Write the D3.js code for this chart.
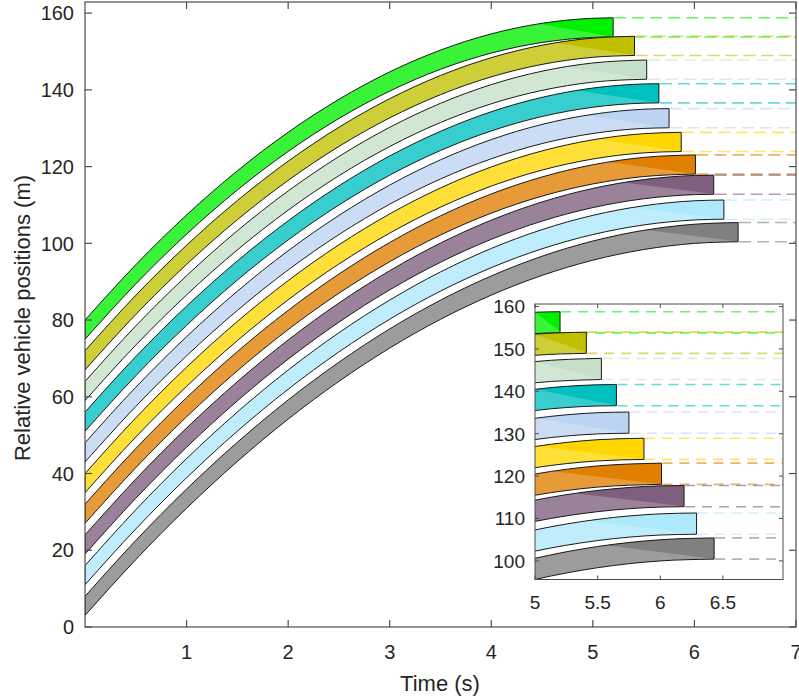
<!DOCTYPE html>
<html>
<head>
<meta charset="utf-8">
<script src="https://cdn.jsdelivr.net/npm/d3@7"></script>
<style>
  body { margin: 0; background: #fff; }
  svg { display: block; }
  text { font-family: "Liberation Sans", Arial, sans-serif; fill: #262626; }
</style>
</head>
<body>
<svg id="chart" width="799" height="699"></svg>
<script>
// Sample instants (s) at which the rear bumper positions are listed
const sampleTimes = [0, 0.5, 1, 1.5, 2, 2.5, 3, 3.5, 4, 4.5, 5, 5.5, 6];

const vehicleIds = ["v1", "v2", "v3", "v4", "v5", "v6", "v7", "v8", "v9", "v10"];
const vehicleColors = ["#00f000", "#c0c000", "#c5dfc8", "#00c0c0", "#bcd4f2",
                       "#ffd700", "#e07f00", "#7e5f7e", "#ade8fb", "#808080"];
const vehicleLength = 5;

// Rear position (m) of each vehicle at the sample instants, up to its stop
const rearV1  = [75, 89.42, 102.39, 113.90, 123.95, 132.54, 139.68, 145.36, 149.59, 152.35, 153.66];
const rearV2  = [67, 81.45, 94.50, 106.15, 116.40, 125.25, 132.70, 138.75, 143.39, 146.64, 148.49];
const rearV3  = [59, 73.47, 86.56, 98.29, 108.64, 117.63, 125.24, 131.49, 136.37, 139.87, 142.01];
const rearV4  = [51, 65.48, 78.62, 90.42, 100.87, 109.99, 117.77, 124.20, 129.30, 133.05, 135.47, 136.54];
const rearV5  = [43, 57.49, 70.67, 82.52, 93.06, 102.28, 110.19, 116.77, 122.04, 126.00, 128.63, 129.95];
const rearV6  = [35, 49.51, 62.72, 74.64, 85.28, 94.62, 102.67, 109.43, 114.91, 119.09, 121.98, 123.58];
const rearV7  = [27, 41.52, 54.78, 66.78, 77.52, 87.00, 95.21, 102.17, 107.87, 112.30, 115.48, 117.40];
const rearV8  = [19, 33.54, 46.85, 58.94, 69.81, 79.45, 87.87, 95.07, 101.04, 105.79, 109.31, 111.61, 112.69];
const rearV9  = [11, 25.55, 38.89, 51.03, 61.97, 71.70, 80.22, 87.55, 93.66, 98.58, 102.29, 104.79, 106.09];
const rearV10 = [3, 17.56, 30.94, 43.15, 54.18, 64.02, 72.70, 80.19, 86.50, 91.64, 95.60, 98.38, 99.98];
const rearPositions = [rearV1, rearV2, rearV3, rearV4, rearV5, rearV6, rearV7, rearV8, rearV9, rearV10];

// Time (s) at which each vehicle comes to rest, and its rear position (m) there
const stopTimes = [5.2, 5.41, 5.53, 5.65, 5.75, 5.87, 6.01, 6.19, 6.29, 6.43];
const stopPositions = [153.78, 148.96, 142.78, 136.60, 130.11, 123.93, 118.05, 112.78, 106.29, 100.41];

const xTicksMain = [1, 2, 3, 4, 5, 6, 7];
const yTicksMain = [0, 20, 40, 60, 80, 100, 120, 140, 160];
const xTicksInset = [5, 5.5, 6, 6.5];
const yTicksInset = [100, 110, 120, 130, 140, 150, 160];

const svg = d3.select("#chart");
const defs = svg.append("defs");
const axisColor = "#4d4d4d";

// Per-vehicle trajectory records: {t, rear, front}
const tracks = vehicleIds.map((id, i) => {
  const pts = rearPositions[i].map((r, j) => ({ t: sampleTimes[j], rear: r, front: r + vehicleLength }));
  pts.push({ t: stopTimes[i], rear: stopPositions[i], front: stopPositions[i] + vehicleLength });
  return { id, color: vehicleColors[i], stop: stopTimes[i], pts };
});

function drawPanel(g, x, y, opts) {
  const [x0, x1] = x.range();
  const [y0, y1] = y.range(); // y0 bottom, y1 top
  const clipId = "clip-" + opts.name;
  defs.append("clipPath").attr("id", clipId)
    .append("rect").attr("x", x0).attr("y", y1).attr("width", x1 - x0).attr("height", y0 - y1);

  g.append("rect").attr("x", x0).attr("y", y1).attr("width", x1 - x0).attr("height", y0 - y1)
    .attr("fill", "#fff");

  const plot = g.append("g").attr("clip-path", `url(#${clipId})`);
  const xEnd = x.domain()[1];

  // Dashed rest-position guides for the front and rear of every vehicle
  tracks.forEach(tr => {
    const last = tr.pts[tr.pts.length - 1];
    [last.front, last.rear].forEach(v => {
      plot.append("line")
        .attr("x1", x(tr.stop) + 1).attr("x2", x(xEnd))
        .attr("y1", y(v)).attr("y2", y(v))
        .attr("stroke", tr.color).attr("stroke-opacity", 0.6)
        .attr("stroke-width", 1.6).attr("stroke-dasharray", opts.dash);
    });
  });

  const area = d3.area()
    .x(d => x(d.t)).y0(d => y(d.rear)).y1(d => y(d.front))
    .curve(d3.curveMonotoneX);

  tracks.forEach((tr, i) => {
    const bandId = `band-${opts.name}-${i}`;
    const d = area(tr.pts);
    defs.append("clipPath").attr("id", bandId).append("path").attr("d", d);
    const bg = plot.append("g");
    const light = d3.interpolateRgb(tr.color, "#ffffff")(0.22);
    bg.append("path").attr("d", d).attr("fill", light);

    // Saturated wedge towards the stopping end of the band
    const frontAt = d3.scaleLinear().domain(tr.pts.map(p => p.t)).range(tr.pts.map(p => p.front));
    const ta = Math.max(opts.shadeFrom(tr.stop), x.domain()[0]);
    const last = tr.pts[tr.pts.length - 1];
    const wedge = [
      [x(ta), y(frontAt(ta))],
      [x(ta), y(frontAt(ta)) - 40],
      [x(tr.stop) + 2, y(last.front) - 40],
      [x(tr.stop) + 2, y(last.rear)]
    ];
    bg.append("path").attr("d", d3.line()(wedge) + "Z")
      .attr("fill", tr.color).attr("clip-path", `url(#${bandId})`);

    bg.append("path").attr("d", d).attr("fill", "none")
      .attr("stroke", "#1a1a1a").attr("stroke-width", 1).attr("stroke-linejoin", "round");
  });

  // Box with inward ticks on all four sides
  const frame = g.append("g").attr("stroke", axisColor).attr("stroke-width", opts.lw).attr("fill", "none");
  frame.append("rect").attr("x", x0).attr("y", y1).attr("width", x1 - x0).attr("height", y0 - y1);
  opts.xTicks.forEach(v => {
    frame.append("line").attr("x1", x(v)).attr("x2", x(v)).attr("y1", y0).attr("y2", y0 - opts.tick);
    frame.append("line").attr("x1", x(v)).attr("x2", x(v)).attr("y1", y1).attr("y2", y1 + opts.tick);
  });
  opts.yTicks.forEach(v => {
    frame.append("line").attr("x1", x0).attr("x2", x0 + opts.tick).attr("y1", y(v)).attr("y2", y(v));
    frame.append("line").attr("x1", x1).attr("x2", x1 - opts.tick).attr("y1", y(v)).attr("y2", y(v));
  });

  g.append("g").selectAll("text").data(opts.xTicks).join("text")
    .attr("x", d => x(d)).attr("y", y0 + opts.xLabelDy)
    .attr("text-anchor", "middle").attr("font-size", opts.fs).text(d => d);
  g.append("g").selectAll("text").data(opts.yTicks).join("text")
    .attr("x", x0 - opts.yLabelDx).attr("y", d => y(d)).attr("dy", "0.36em")
    .attr("text-anchor", "end").attr("font-size", opts.fs).text(d => d);
}

// Main axes
const xMain = d3.scaleLinear().domain([0, 7]).range([85, 796]);
const yMain = d3.scaleLinear().domain([0, 162.9]).range([627, 2]);
drawPanel(svg.append("g"), xMain, yMain, {
  name: "main", dash: "12,6", lw: 1.2, tick: 7, fs: 20,
  xTicks: xTicksMain, yTicks: yTicksMain, xLabelDy: 32, yLabelDx: 11,
  shadeFrom: T => T * 0.86
});

// Inset: close-up of the stopping phase
const xInset = d3.scaleLinear().domain([5, 6.98]).range([535, 783]);
const yInset = d3.scaleLinear().domain([95.6, 160.6]).range([579.5, 304]);
drawPanel(svg.append("g"), xInset, yInset, {
  name: "inset", dash: "10,7", lw: 1, tick: 4, fs: 19,
  xTicks: xTicksInset, yTicks: yTicksInset, xLabelDy: 29, yLabelDx: 10,
  shadeFrom: T => T - 0.85
});

// Axis titles
svg.append("text").attr("x", 440).attr("y", 691).attr("text-anchor", "middle")
  .attr("font-size", 22).text("Time (s)");
svg.append("text").attr("transform", "translate(30,318) rotate(-90)")
  .attr("text-anchor", "middle").attr("font-size", 22).text("Relative vehicle positions (m)");
</script>
</body>
</html>
